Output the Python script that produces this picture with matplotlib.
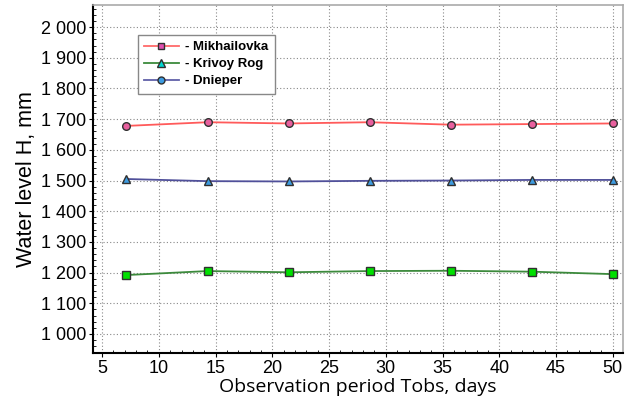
import matplotlib
matplotlib.use("Agg")
import matplotlib.pyplot as plt
from matplotlib.lines import Line2D
from matplotlib.ticker import FuncFormatter, MultipleLocator
import numpy as np

# observation period, days
tobs = [7.14, 14.29, 21.43, 28.57, 35.71, 42.86, 50.0]

# water level H, mm
mikhailovka = [1678, 1690, 1686, 1690, 1682, 1684, 1686]
dnieper = [1505, 1498, 1497, 1499, 1500, 1502, 1502]
krivoy_rog = [1192, 1205, 1201, 1205, 1206, 1203, 1195]

names = ["- Mikhailovka", "- Krivoy Rog", "- Dnieper"]

fig = plt.figure(figsize=(6.29, 4.01), dpi=100)
ax = fig.add_axes([93 / 629, 1 - 353 / 401, 530 / 629, 348 / 401])

ax.plot(tobs, mikhailovka, color="#ff5a5a", lw=1.3, marker="o", ms=5.5,
        mfc="#e8609e", mec="#303030", mew=1.0)
ax.plot(tobs, dnieper, color="#50509a", lw=1.3, marker="^", ms=6,
        mfc="#3d9be0", mec="#303030", mew=1.0)
ax.plot(tobs, krivoy_rog, color="#3c8a3c", lw=1.3, marker="s", ms=5.5,
        mfc="#00e000", mec="#303030", mew=1.0)

ax.set_xlim(4.2, 50.9)
ax.set_ylim(938, 2072)
ax.xaxis.set_major_locator(MultipleLocator(5))
ax.xaxis.set_minor_locator(MultipleLocator(1))
ax.yaxis.set_minor_locator(MultipleLocator(20))
ax.set_yticks(np.arange(1000, 2001, 100))
ax.yaxis.set_major_formatter(FuncFormatter(lambda v, p: f"{int(v):,}".replace(",", " ")))

ax.grid(True, which="major", ls=(0, (1, 2)), color="#888888", lw=0.8)
ax.tick_params(which="major", direction="out", length=3, labelsize=13, pad=2)
ax.tick_params(which="minor", direction="in", length=2)
for lab in ax.get_xticklabels() + ax.get_yticklabels():
    lab.set_fontfamily("Liberation Sans")

for s in ["left", "bottom"]:
    ax.spines[s].set_color("black")
    ax.spines[s].set_linewidth(1.5)
for s in ["top", "right"]:
    ax.spines[s].set_color("#aaaaaa")
    ax.spines[s].set_linewidth(1.2)

ax.set_xlabel("Observation period Tobs, days", fontsize=14, family="Open Sans", labelpad=1)
ax.set_ylabel("Water level H, mm", fontsize=15.5, family="Liberation Sans", labelpad=3)

handles = [
    Line2D([], [], color="#ff6a6a", lw=1.3, marker="s", ms=5, mfc="#e050b0", mec="#303030"),
    Line2D([], [], color="#3c8a3c", lw=1.3, marker="^", ms=5.5, mfc="#00d8d0", mec="#303030"),
    Line2D([], [], color="#6060a8", lw=1.3, marker="o", ms=5, mfc="#3d9be0", mec="#303030"),
]
leg = ax.legend(handles, names, loc="upper left", bbox_to_anchor=(38 / 530, 1 - 23 / 348),
                prop={"family": "Liberation Sans", "weight": "bold", "size": 9.5},
                frameon=True, fancybox=False, edgecolor="#888888", framealpha=1,
                handlelength=2.6, handletextpad=0.5, borderpad=0.5, labelspacing=0.35)
leg.get_frame().set_linewidth(1.0)

fig.savefig("out.png", dpi=100)
